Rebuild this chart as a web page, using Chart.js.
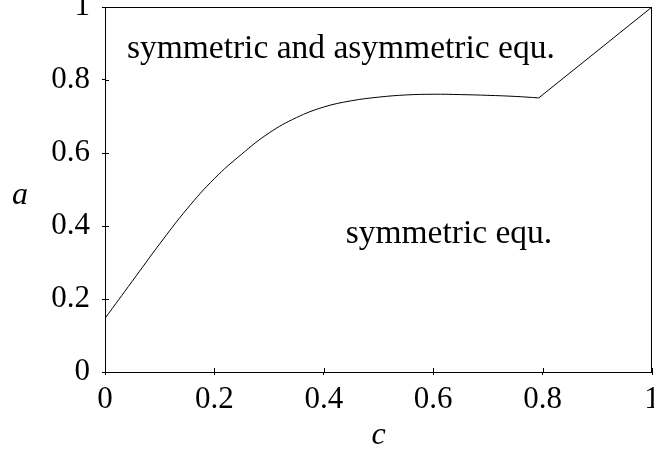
<!DOCTYPE html>
<html>
<head>
<meta charset="utf-8">
<script src="https://cdn.jsdelivr.net/npm/chart.js@4"></script>
<style>
  html, body { margin: 0; padding: 0; background: #fff; }
  #wrap { width: 654px; height: 455px; }
</style>
</head>
<body>
<div id="wrap"><canvas id="phaseChart" width="654" height="455"></canvas></div>
<script>
// --- data ---
const cValues = [0, 0.05, 0.1, 0.15, 0.2, 0.25, 0.3, 0.35, 0.4, 0.45, 0.5, 0.55, 0.6, 0.65, 0.7, 0.75, 0.793];
const aValues = [0.147, 0.249, 0.351, 0.447, 0.53, 0.597, 0.655, 0.697, 0.726, 0.743, 0.753, 0.759, 0.761, 0.76, 0.758, 0.755, 0.751];
const kinkLine = [[0.793, 0.751], [1, 1]];
const xTicks = [0, 0.2, 0.4, 0.6, 0.8, 1];
const yTicks = [0, 0.2, 0.4, 0.6, 0.8, 1];
const regionLabels = [
    { text: 'symmetric and asymmetric equ.', c: 0.04, a: 0.86 },
    { text: 'symmetric equ.', c: 0.44, a: 0.353 }
];

const FONT = '"Liberation Serif", "Times New Roman", serif';

// frame, inner tick halves, axis letters and region labels
const extras = {
    id: 'extras',
    afterDraw(chart) {
        const { ctx, chartArea, scales } = chart;
        ctx.save();
        ctx.strokeStyle = '#000';
        ctx.lineWidth = 1;
        ctx.strokeRect(chartArea.left + 0.5, chartArea.top + 0.5,
            chartArea.right - chartArea.left - 1, chartArea.bottom - chartArea.top);

        ctx.beginPath();
        xTicks.forEach(v => {
            const x = Math.round(scales.x.getPixelForValue(v)) + 0.5;
            ctx.moveTo(x, chartArea.bottom);
            ctx.lineTo(x, chartArea.bottom - 4);
        });
        yTicks.forEach(v => {
            const y = Math.round(scales.y.getPixelForValue(v)) + 0.5;
            ctx.moveTo(chartArea.left, y);
            ctx.lineTo(chartArea.left + 4, y);
        });
        ctx.stroke();

        ctx.fillStyle = '#000';
        ctx.font = '33.5px ' + FONT;
        ctx.textBaseline = 'alphabetic';
        ctx.textAlign = 'left';
        regionLabels.forEach(l => {
            ctx.fillText(l.text, scales.x.getPixelForValue(l.c), scales.y.getPixelForValue(l.a));
        });

        ctx.font = 'italic 32px ' + FONT;
        ctx.textAlign = 'center';
        ctx.fillText('a', 20, scales.y.getPixelForValue(0.46));
        ctx.fillText('c', scales.x.getPixelForValue(0.5), 444);
        ctx.restore();
    }
};

const ctx = document.getElementById('phaseChart').getContext('2d');
const phaseChart = new Chart(ctx, {
    type: 'scatter',
    data: {
        datasets: [{
            data: cValues.map((c, i) => ({ x: c, y: aValues[i] })),
            showLine: true,
            borderColor: '#000',
            borderWidth: 1,
            pointRadius: 0,
            tension: 0.4
        }, {
            data: kinkLine.map(p => ({ x: p[0], y: p[1] })),
            showLine: true,
            borderColor: '#000',
            borderWidth: 1,
            pointRadius: 0,
            tension: 0
        }]
    },
    options: {
        responsive: false,
        animation: false,
        layout: { padding: { top: 7, right: 2, left: 0, bottom: 0 } },
        plugins: {
            legend: { display: false },
            tooltip: { enabled: false }
        },
        scales: {
            x: {
                type: 'linear',
                min: 0,
                max: 1,
                afterBuildTicks: s => { s.ticks = xTicks.map(v => ({ value: v })); },
                afterFit: s => { s.height = 83; s.paddingLeft = 0; s.paddingRight = 0; },
                ticks: {
                    color: '#000',
                    font: { family: FONT, size: 31 },
                    padding: 6,
                    maxRotation: 0,
                    autoSkip: false,
                    callback: v => String(v)
                },
                grid: { drawOnChartArea: false, tickLength: 3, color: '#000' },
                border: { color: '#000' }
            },
            y: {
                type: 'linear',
                min: 0,
                max: 1,
                afterBuildTicks: s => { s.ticks = yTicks.map(v => ({ value: v })); },
                afterFit: s => { s.width = 105; s.paddingTop = 0; s.paddingBottom = 0; },
                ticks: {
                    color: '#000',
                    font: { family: FONT, size: 31 },
                    padding: 12,
                    autoSkip: false,
                    callback: v => String(v)
                },
                grid: { drawOnChartArea: false, tickLength: 3, color: '#000' },
                border: { color: '#000' }
            }
        }
    },
    plugins: [extras]
});
</script>
</body>
</html>
